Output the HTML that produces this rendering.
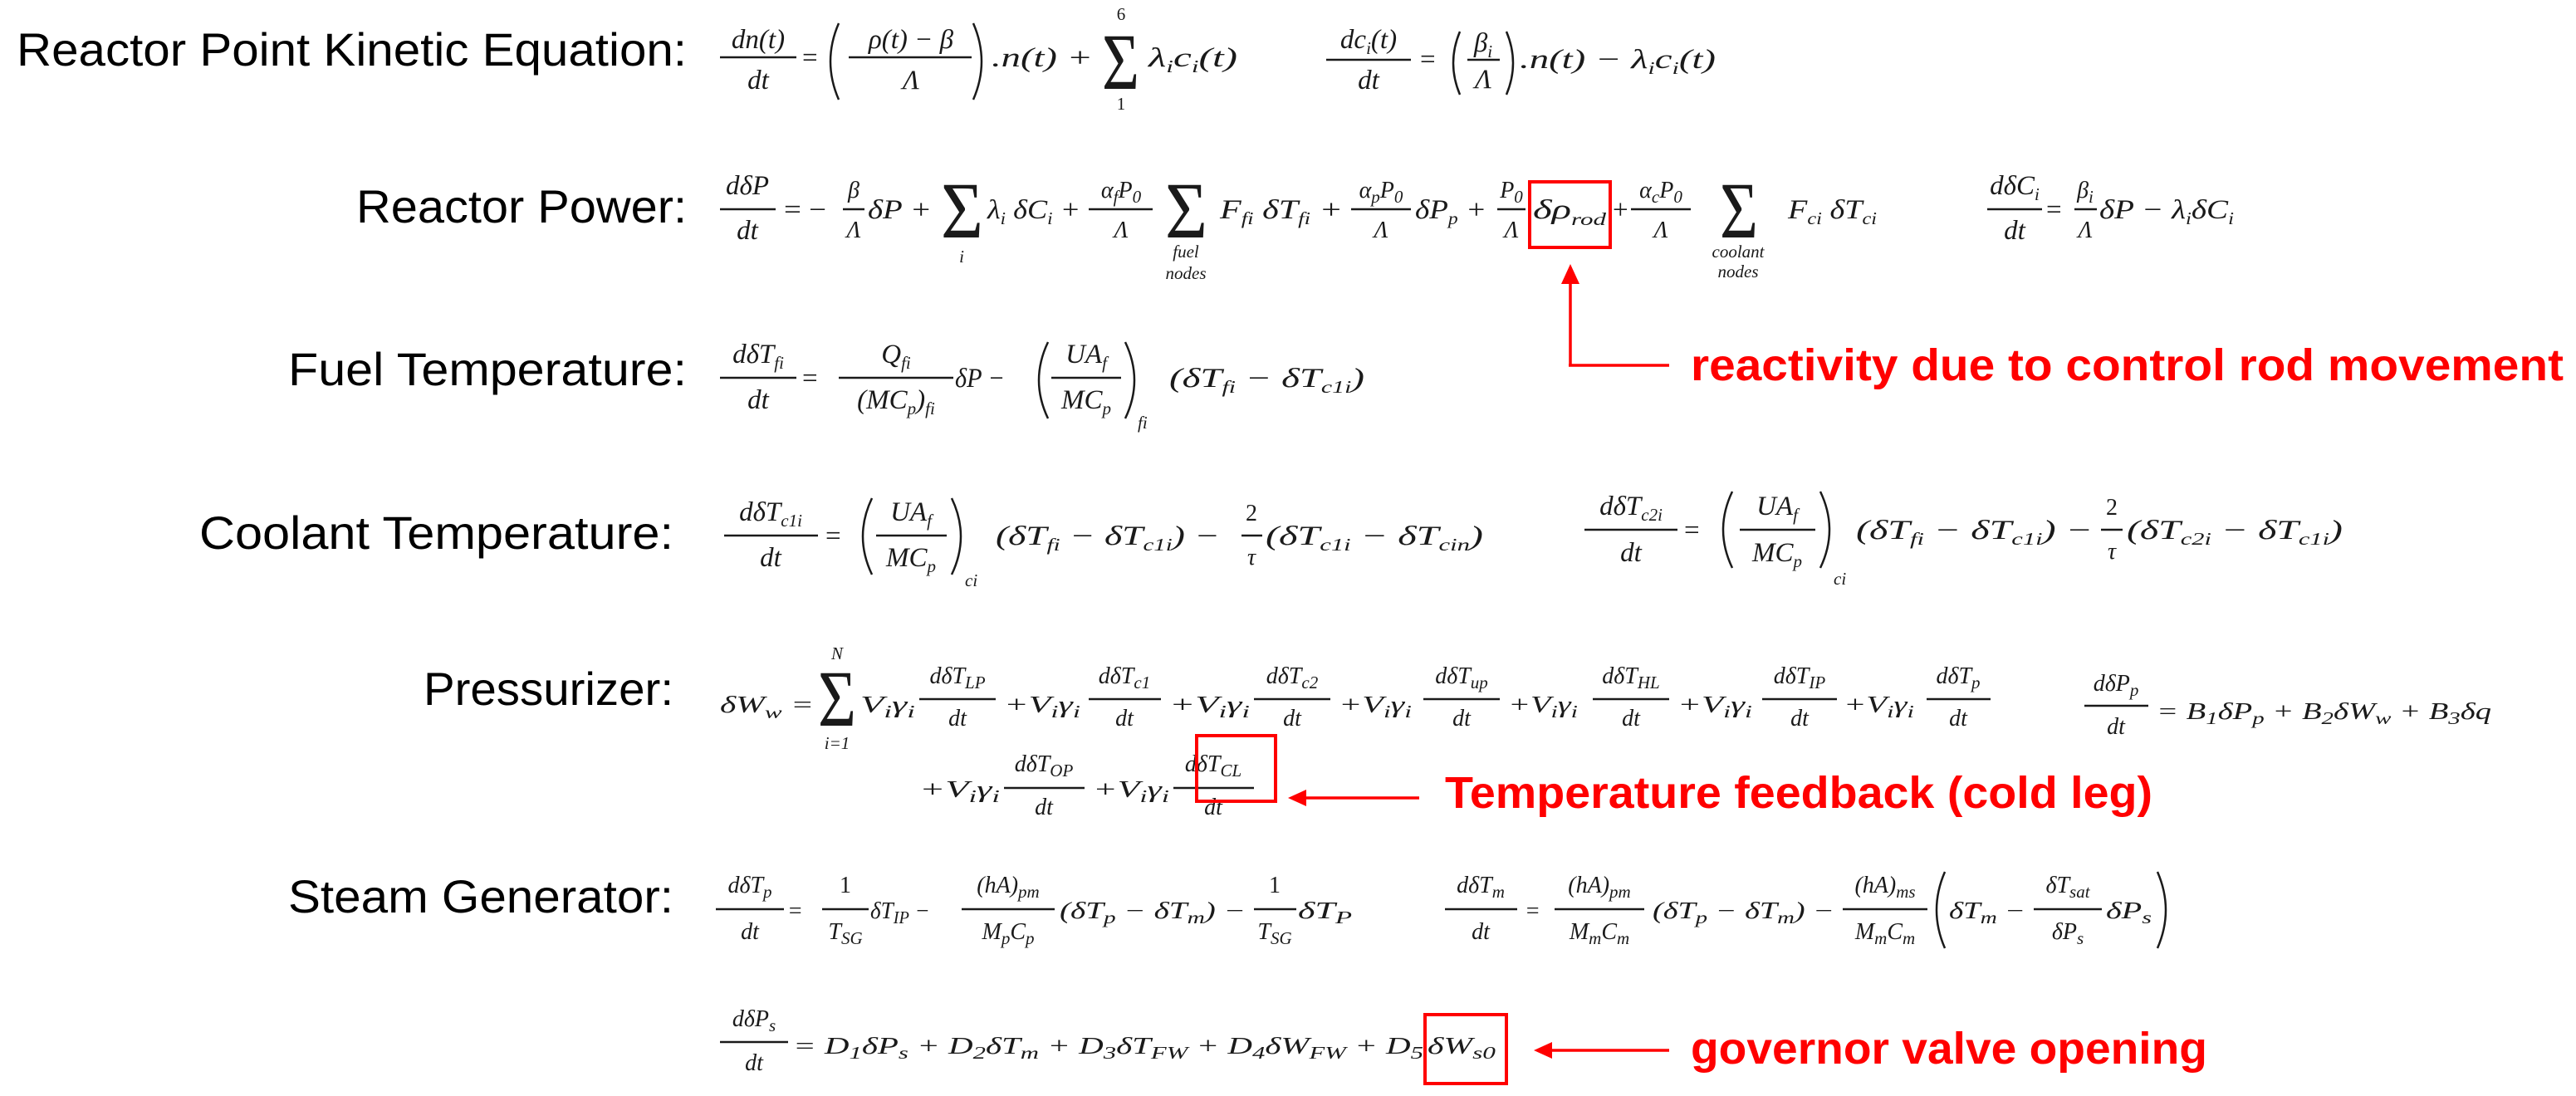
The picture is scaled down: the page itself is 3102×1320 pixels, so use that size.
<!DOCTYPE html>
<html><head><meta charset="utf-8"><style>
html,body{margin:0;padding:0;background:#fff}
svg{display:block}
.l{font-family:"Liberation Sans",sans-serif;font-size:56px;fill:#000}
.m{font-family:"Liberation Serif",serif;font-style:italic;font-size:33px;fill:#1a1a1a}
.n{font-family:"Liberation Serif",serif;font-size:33px;fill:#1a1a1a}
.sm{font-size:28px}
.s{font-size:21px}
.t{font-family:"Liberation Serif",serif;font-style:italic;font-size:21px;fill:#1a1a1a}
.big{font-family:"Liberation Serif",serif;font-size:96px;fill:#1a1a1a}
.r{font-family:"Liberation Sans",sans-serif;font-weight:bold;font-size:54px;fill:#ff0000}
line.b{stroke:#1a1a1a;stroke-width:2.5}
path.p{stroke:#1a1a1a;stroke-width:2.5;fill:none}
rect.box{fill:none;stroke:#ff0000;stroke-width:4}
.red{stroke:#ff0000;stroke-width:3.5;fill:none}
</style></head><body>
<svg width="3102" height="1320" viewBox="0 0 3102 1320" xmlns="http://www.w3.org/2000/svg">
<!-- Row 1 -->
<text class="l" x="20" y="79" textLength="807" lengthAdjust="spacingAndGlyphs">Reactor Point Kinetic Equation:</text>
<text class="m" x="913" y="58" text-anchor="middle">dn(t)</text>
<line class="b" x1="867" y1="69" x2="959" y2="69"/>
<text class="m" x="913" y="107" text-anchor="middle">dt</text>
<text class="n" x="966" y="80">=</text>
<path class="p" d="M1010 28 Q990 74 1010 120"/>
<text class="m" x="1097" y="58" text-anchor="middle">ρ(t) − β</text>
<line class="b" x1="1022" y1="69" x2="1170" y2="69"/>
<text class="m" x="1097" y="107" text-anchor="middle">Λ</text>
<path class="p" d="M1172 28 Q1192 74 1172 120"/>
<text class="m" x="1194" y="80" textLength="122" lengthAdjust="spacingAndGlyphs">.n(t) +</text>
<text class="big" x="1327" y="107" textLength="45" lengthAdjust="spacingAndGlyphs">Σ</text>
<text class="n s" x="1350" y="24" text-anchor="middle">6</text>
<text class="n s" x="1350" y="132" text-anchor="middle">1</text>
<text class="m" x="1383" y="80" textLength="107" lengthAdjust="spacingAndGlyphs">λ<tspan class="s" dy="7">i</tspan><tspan dy="-7">c</tspan><tspan class="s" dy="7">i</tspan><tspan dy="-7">(t)</tspan></text>

<text class="m" x="1648" y="58" text-anchor="middle">dc<tspan class="s" dy="7">i</tspan><tspan dy="-7">(t)</tspan></text>
<line class="b" x1="1597" y1="72" x2="1699" y2="72"/>
<text class="m" x="1648" y="107" text-anchor="middle">dt</text>
<text class="n" x="1710" y="82">=</text>
<path class="p" d="M1758 38 Q1742 76 1758 114"/>
<text class="m" x="1786" y="62" text-anchor="middle">β<tspan class="s" dy="7">i</tspan></text>
<line class="b" x1="1767" y1="72" x2="1806" y2="72"/>
<text class="m" x="1786" y="106" text-anchor="middle">Λ</text>
<path class="p" d="M1814 38 Q1830 76 1814 114"/>
<text class="m" x="1830" y="82" textLength="236" lengthAdjust="spacingAndGlyphs">.n(t) − λ<tspan class="s" dy="7">i</tspan><tspan dy="-7">c</tspan><tspan class="s" dy="7">i</tspan><tspan dy="-7">(t)</tspan></text>

<!-- Row 2 -->
<text class="l" x="429" y="268" textLength="398" lengthAdjust="spacingAndGlyphs">Reactor Power:</text>
<text class="m" x="900" y="234" text-anchor="middle">dδP</text>
<line class="b" x1="867" y1="252" x2="934" y2="252"/>
<text class="m" x="900" y="288" text-anchor="middle">dt</text>
<text class="n" x="944" y="263" textLength="51" lengthAdjust="spacingAndGlyphs">= −</text>
<text class="m sm" x="1028" y="238" text-anchor="middle">β</text>
<line class="b" x1="1015" y1="252" x2="1041" y2="252"/>
<text class="m sm" x="1028" y="286" text-anchor="middle">Λ</text>
<text class="m" x="1045" y="263" textLength="77" lengthAdjust="spacingAndGlyphs">δP +</text>
<text class="big" x="1133" y="286" textLength="51" lengthAdjust="spacingAndGlyphs">Σ</text>
<text class="t" x="1158" y="316" text-anchor="middle">i</text>
<text class="m" x="1189" y="263" textLength="112" lengthAdjust="spacingAndGlyphs">λ<tspan class="s" dy="7">i</tspan><tspan dy="-7"> δC</tspan><tspan class="s" dy="7">i</tspan><tspan dy="-7"> +</tspan></text>
<text class="m sm" x="1350" y="238" text-anchor="middle">α<tspan class="s" dy="6">f</tspan><tspan dy="-6">P</tspan><tspan class="s" dy="6">0</tspan></text>
<line class="b" x1="1311" y1="252" x2="1388" y2="252"/>
<text class="m sm" x="1350" y="286" text-anchor="middle">Λ</text>
<text class="big" x="1403" y="286" textLength="51" lengthAdjust="spacingAndGlyphs">Σ</text>
<text class="t" x="1428" y="310" text-anchor="middle">fuel</text>
<text class="t" x="1428" y="336" text-anchor="middle">nodes</text>
<text class="m" x="1469" y="263" textLength="148" lengthAdjust="spacingAndGlyphs">F<tspan class="s" dy="7">fi</tspan><tspan dy="-7"> δT</tspan><tspan class="s" dy="7">fi</tspan><tspan dy="-7"> +</tspan></text>
<text class="m sm" x="1663" y="238" text-anchor="middle">α<tspan class="s" dy="6">p</tspan><tspan dy="-6">P</tspan><tspan class="s" dy="6">0</tspan></text>
<line class="b" x1="1627" y1="252" x2="1699" y2="252"/>
<text class="m sm" x="1663" y="286" text-anchor="middle">Λ</text>
<text class="m" x="1704" y="263" textLength="86" lengthAdjust="spacingAndGlyphs">δP<tspan class="s" dy="7">p</tspan><tspan dy="-7"> +</tspan></text>
<text class="m sm" x="1820" y="238" text-anchor="middle">P<tspan class="s" dy="6">0</tspan></text>
<line class="b" x1="1803" y1="252" x2="1837" y2="252"/>
<text class="m sm" x="1820" y="286" text-anchor="middle">Λ</text>
<text class="m" x="1846" y="263" textLength="88" lengthAdjust="spacingAndGlyphs">δρ<tspan class="s" dy="8">rod</tspan></text>
<rect class="box" x="1842" y="219" width="97" height="79"/>
<text class="n" x="1942" y="263">+</text>
<text class="m sm" x="2000" y="238" text-anchor="middle">α<tspan class="s" dy="6">c</tspan><tspan dy="-6">P</tspan><tspan class="s" dy="6">0</tspan></text>
<line class="b" x1="1964" y1="252" x2="2036" y2="252"/>
<text class="m sm" x="2000" y="286" text-anchor="middle">Λ</text>
<text class="big" x="2071" y="286" textLength="46" lengthAdjust="spacingAndGlyphs">Σ</text>
<text class="t" x="2093" y="310" text-anchor="middle">coolant</text>
<text class="t" x="2093" y="334" text-anchor="middle">nodes</text>
<text class="m" x="2153" y="263" textLength="107" lengthAdjust="spacingAndGlyphs">F<tspan class="s" dy="7">ci</tspan><tspan dy="-7"> δT</tspan><tspan class="s" dy="7">ci</tspan></text>

<text class="m" x="2426" y="234" text-anchor="middle">dδC<tspan class="s" dy="7">i</tspan></text>
<line class="b" x1="2393" y1="252" x2="2459" y2="252"/>
<text class="m" x="2426" y="288" text-anchor="middle">dt</text>
<text class="n" x="2464" y="263">=</text>
<text class="m sm" x="2511" y="238" text-anchor="middle">β<tspan class="s" dy="6">i</tspan></text>
<line class="b" x1="2498" y1="252" x2="2525" y2="252"/>
<text class="m sm" x="2511" y="286" text-anchor="middle">Λ</text>
<text class="m" x="2528" y="263" textLength="162" lengthAdjust="spacingAndGlyphs">δP − λ<tspan class="s" dy="7">i</tspan><tspan dy="-7">δC</tspan><tspan class="s" dy="7">i</tspan></text>

<line class="red" x1="1891" y1="336" x2="1891" y2="440"/>
<line class="red" x1="1889" y1="440" x2="2010" y2="440"/>
<polygon points="1891,318 1880,342 1902,342" fill="#ff0000"/>
<text class="r" x="2036" y="458" textLength="1051" lengthAdjust="spacingAndGlyphs">reactivity due to control rod movement</text>

<!-- Row 3 -->
<text class="l" x="347" y="464" textLength="480" lengthAdjust="spacingAndGlyphs">Fuel Temperature:</text>
<text class="m" x="913" y="437" text-anchor="middle">dδT<tspan class="s" dy="7">fi</tspan></text>
<line class="b" x1="867" y1="455" x2="959" y2="455"/>
<text class="m" x="913" y="492" text-anchor="middle">dt</text>
<text class="n" x="966" y="466">=</text>
<text class="m" x="1079" y="437" text-anchor="middle">Q<tspan class="s" dy="7">fi</tspan></text>
<line class="b" x1="1010" y1="455" x2="1148" y2="455"/>
<text class="m" x="1079" y="492" text-anchor="middle">(MC<tspan class="s" dy="7">p</tspan><tspan dy="-7">)</tspan><tspan class="s" dy="7">fi</tspan></text>
<text class="m" x="1150" y="466" textLength="60" lengthAdjust="spacingAndGlyphs">δP −</text>
<path class="p" d="M1262 412 Q1240 458 1262 504"/>
<text class="m" x="1308" y="437" text-anchor="middle">UA<tspan class="s" dy="7">f</tspan></text>
<line class="b" x1="1266" y1="455" x2="1350" y2="455"/>
<text class="m" x="1308" y="492" text-anchor="middle">MC<tspan class="s" dy="7">p</tspan></text>
<path class="p" d="M1355 412 Q1377 458 1355 504"/>
<text class="t" x="1370" y="516">fi</text>
<text class="m" x="1408" y="466" textLength="235" lengthAdjust="spacingAndGlyphs">(δT<tspan class="s" dy="7">fi</tspan><tspan dy="-7"> − δT</tspan><tspan class="s" dy="7">c1i</tspan><tspan dy="-7">)</tspan></text>

<!-- Row 4 -->
<text class="l" x="240" y="661" textLength="571" lengthAdjust="spacingAndGlyphs">Coolant Temperature:</text>
<text class="m" x="928" y="627" text-anchor="middle">dδT<tspan class="s" dy="7">c1i</tspan></text>
<line class="b" x1="872" y1="645" x2="985" y2="645"/>
<text class="m" x="928" y="682" text-anchor="middle">dt</text>
<text class="n" x="994" y="656">=</text>
<path class="p" d="M1050 600 Q1028 646 1050 692"/>
<text class="m" x="1097" y="627" text-anchor="middle">UA<tspan class="s" dy="7">f</tspan></text>
<line class="b" x1="1055" y1="645" x2="1140" y2="645"/>
<text class="m" x="1097" y="682" text-anchor="middle">MC<tspan class="s" dy="7">p</tspan></text>
<path class="p" d="M1146 600 Q1168 646 1146 692"/>
<text class="t" x="1162" y="706">ci</text>
<text class="m" x="1199" y="656" textLength="270" lengthAdjust="spacingAndGlyphs">(δT<tspan class="s" dy="7">fi</tspan><tspan dy="-7"> − δT</tspan><tspan class="s" dy="7">c1i</tspan><tspan dy="-7">) −</tspan></text>
<text class="n sm" x="1507" y="627" text-anchor="middle">2</text>
<line class="b" x1="1495" y1="645" x2="1520" y2="645"/>
<text class="m sm" x="1507" y="680" text-anchor="middle">τ</text>
<text class="m" x="1524" y="656" textLength="262" lengthAdjust="spacingAndGlyphs">(δT<tspan class="s" dy="7">c1i</tspan><tspan dy="-7"> − δT</tspan><tspan class="s" dy="7">cin</tspan><tspan dy="-7">)</tspan></text>

<text class="m" x="1964" y="620" text-anchor="middle">dδT<tspan class="s" dy="7">c2i</tspan></text>
<line class="b" x1="1908" y1="638" x2="2020" y2="638"/>
<text class="m" x="1964" y="676" text-anchor="middle">dt</text>
<text class="n" x="2028" y="649">=</text>
<path class="p" d="M2086 592 Q2064 638 2086 684"/>
<text class="m" x="2140" y="620" text-anchor="middle">UA<tspan class="s" dy="7">f</tspan></text>
<line class="b" x1="2095" y1="638" x2="2186" y2="638"/>
<text class="m" x="2140" y="676" text-anchor="middle">MC<tspan class="s" dy="7">p</tspan></text>
<path class="p" d="M2192 592 Q2214 638 2192 684"/>
<text class="t" x="2208" y="704">ci</text>
<text class="m" x="2235" y="649" textLength="285" lengthAdjust="spacingAndGlyphs">(δT<tspan class="s" dy="7">fi</tspan><tspan dy="-7"> − δT</tspan><tspan class="s" dy="7">c1i</tspan><tspan dy="-7">) −</tspan></text>
<text class="n sm" x="2543" y="620" text-anchor="middle">2</text>
<line class="b" x1="2530" y1="638" x2="2556" y2="638"/>
<text class="m sm" x="2543" y="673" text-anchor="middle">τ</text>
<text class="m" x="2561" y="649" textLength="260" lengthAdjust="spacingAndGlyphs">(δT<tspan class="s" dy="7">c2i</tspan><tspan dy="-7"> − δT</tspan><tspan class="s" dy="7">c1i</tspan><tspan dy="-7">)</tspan></text>

<!-- Row 5 -->
<text class="l" x="510" y="849" textLength="301" lengthAdjust="spacingAndGlyphs">Pressurizer:</text>
<text class="m sm" x="867" y="858" textLength="113" lengthAdjust="spacingAndGlyphs">δW<tspan class="s" dy="7">w</tspan><tspan dy="-7"> =</tspan></text>
<text class="big" x="985" y="874" textLength="46" lengthAdjust="spacingAndGlyphs">Σ</text>
<text class="t" x="1008" y="794" text-anchor="middle">N</text>
<text class="t" x="1008" y="902" text-anchor="middle">i=1</text>

<g class="m sm">
<text x="1036" y="858" textLength="66" lengthAdjust="spacingAndGlyphs">V<tspan class="s" dy="6">i</tspan><tspan dy="-6">γ</tspan><tspan class="s" dy="6">i</tspan></text>
<text x="1153" y="823" text-anchor="middle">dδT<tspan class="s" dy="6">LP</tspan></text>
<text x="1153" y="874" text-anchor="middle">dt</text>
<text x="1209" y="858" textLength="92" lengthAdjust="spacingAndGlyphs">+V<tspan class="s" dy="6">i</tspan><tspan dy="-6">γ</tspan><tspan class="s" dy="6">i</tspan></text>
<text x="1354" y="823" text-anchor="middle">dδT<tspan class="s" dy="6">c1</tspan></text>
<text x="1354" y="874" text-anchor="middle">dt</text>
<text x="1408" y="858" textLength="97" lengthAdjust="spacingAndGlyphs">+V<tspan class="s" dy="6">i</tspan><tspan dy="-6">γ</tspan><tspan class="s" dy="6">i</tspan></text>
<text x="1556" y="823" text-anchor="middle">dδT<tspan class="s" dy="6">c2</tspan></text>
<text x="1556" y="874" text-anchor="middle">dt</text>
<text x="1612" y="858" textLength="88" lengthAdjust="spacingAndGlyphs">+V<tspan class="s" dy="6">i</tspan><tspan dy="-6">γ</tspan><tspan class="s" dy="6">i</tspan></text>
<text x="1760" y="823" text-anchor="middle">dδT<tspan class="s" dy="6">up</tspan></text>
<text x="1760" y="874" text-anchor="middle">dt</text>
<text x="1816" y="858" textLength="84" lengthAdjust="spacingAndGlyphs">+V<tspan class="s" dy="6">i</tspan><tspan dy="-6">γ</tspan><tspan class="s" dy="6">i</tspan></text>
<text x="1964" y="823" text-anchor="middle">dδT<tspan class="s" dy="6">HL</tspan></text>
<text x="1964" y="874" text-anchor="middle">dt</text>
<text x="2020" y="858" textLength="90" lengthAdjust="spacingAndGlyphs">+V<tspan class="s" dy="6">i</tspan><tspan dy="-6">γ</tspan><tspan class="s" dy="6">i</tspan></text>
<text x="2167" y="823" text-anchor="middle">dδT<tspan class="s" dy="6">IP</tspan></text>
<text x="2167" y="874" text-anchor="middle">dt</text>
<text x="2220" y="858" textLength="85" lengthAdjust="spacingAndGlyphs">+V<tspan class="s" dy="6">i</tspan><tspan dy="-6">γ</tspan><tspan class="s" dy="6">i</tspan></text>
<text x="2358" y="823" text-anchor="middle">dδT<tspan class="s" dy="6">p</tspan></text>
<text x="2358" y="874" text-anchor="middle">dt</text>
<text x="2548" y="832" text-anchor="middle">dδP<tspan class="s" dy="6">p</tspan></text>
<text x="2548" y="884" text-anchor="middle">dt</text>
<text x="2597" y="866" textLength="403" lengthAdjust="spacingAndGlyphs">= B<tspan class="s" dy="6">1</tspan><tspan dy="-6">δP</tspan><tspan class="s" dy="6">p</tspan><tspan dy="-6"> + B</tspan><tspan class="s" dy="6">2</tspan><tspan dy="-6">δW</tspan><tspan class="s" dy="6">w</tspan><tspan dy="-6"> + B</tspan><tspan class="s" dy="6">3</tspan><tspan dy="-6">δq</tspan></text>

<text x="1107" y="960" textLength="97" lengthAdjust="spacingAndGlyphs">+V<tspan class="s" dy="6">i</tspan><tspan dy="-6">γ</tspan><tspan class="s" dy="6">i</tspan></text>
<text x="1257" y="929" text-anchor="middle">dδT<tspan class="s" dy="6">OP</tspan></text>
<text x="1257" y="981" text-anchor="middle">dt</text>
<text x="1316" y="960" textLength="92" lengthAdjust="spacingAndGlyphs">+V<tspan class="s" dy="6">i</tspan><tspan dy="-6">γ</tspan><tspan class="s" dy="6">i</tspan></text>
<text x="1461" y="929" text-anchor="middle">dδT<tspan class="s" dy="6">CL</tspan></text>
<text x="1461" y="981" text-anchor="middle">dt</text>
</g>
<line class="b" x1="1107" y1="842" x2="1199" y2="842"/>
<line class="b" x1="1311" y1="842" x2="1398" y2="842"/>
<line class="b" x1="1510" y1="842" x2="1602" y2="842"/>
<line class="b" x1="1714" y1="842" x2="1806" y2="842"/>
<line class="b" x1="1918" y1="842" x2="2010" y2="842"/>
<line class="b" x1="2122" y1="842" x2="2212" y2="842"/>
<line class="b" x1="2320" y1="842" x2="2397" y2="842"/>
<line class="b" x1="2510" y1="850" x2="2587" y2="850"/>
<line class="b" x1="1209" y1="949" x2="1306" y2="949"/>
<line class="b" x1="1413" y1="949" x2="1510" y2="949"/>
<rect class="box" x="1441" y="886" width="95" height="79"/>
<line class="red" x1="1566" y1="961" x2="1709" y2="961"/>
<polygon points="1551,961 1573,951 1573,971" fill="#ff0000"/>
<text class="r" x="1740" y="973" textLength="852" lengthAdjust="spacingAndGlyphs">Temperature feedback (cold leg)</text>

<!-- Row 6 -->
<text class="l" x="347" y="1099" textLength="464" lengthAdjust="spacingAndGlyphs">Steam Generator:</text>
<g class="m sm">
<text x="903" y="1075" text-anchor="middle">dδT<tspan class="s" dy="6">p</tspan></text>
<text x="903" y="1131" text-anchor="middle">dt</text>
<text x="948" y="1106">=</text>
<text x="1018" y="1075" text-anchor="middle" font-style="normal">1</text>
<text x="1018" y="1131" text-anchor="middle">T<tspan class="s" dy="6">SG</tspan></text>
<text x="1048" y="1106" textLength="72" lengthAdjust="spacingAndGlyphs">δT<tspan class="s" dy="6">IP</tspan><tspan dy="-6"> −</tspan></text>
<text x="1214" y="1075" text-anchor="middle">(hA)<tspan class="s" dy="6">pm</tspan></text>
<text x="1214" y="1131" text-anchor="middle">M<tspan class="s" dy="6">p</tspan><tspan dy="-6">C</tspan><tspan class="s" dy="6">p</tspan></text>
<text x="1276" y="1106" textLength="224" lengthAdjust="spacingAndGlyphs">(δT<tspan class="s" dy="6">p</tspan><tspan dy="-6"> − δT</tspan><tspan class="s" dy="6">m</tspan><tspan dy="-6">) −</tspan></text>
<text x="1535" y="1075" text-anchor="middle" font-style="normal">1</text>
<text x="1535" y="1131" text-anchor="middle">T<tspan class="s" dy="6">SG</tspan></text>
<text x="1563" y="1106" textLength="65" lengthAdjust="spacingAndGlyphs">δT<tspan class="s" dy="6">P</tspan></text>

<text x="1783" y="1075" text-anchor="middle">dδT<tspan class="s" dy="6">m</tspan></text>
<text x="1783" y="1131" text-anchor="middle">dt</text>
<text x="1836" y="1106">=</text>
<text x="1926" y="1075" text-anchor="middle">(hA)<tspan class="s" dy="6">pm</tspan></text>
<text x="1926" y="1131" text-anchor="middle">M<tspan class="s" dy="6">m</tspan><tspan dy="-6">C</tspan><tspan class="s" dy="6">m</tspan></text>
<text x="1990" y="1106" textLength="219" lengthAdjust="spacingAndGlyphs">(δT<tspan class="s" dy="6">p</tspan><tspan dy="-6"> − δT</tspan><tspan class="s" dy="6">m</tspan><tspan dy="-6">) −</tspan></text>
<text x="2270" y="1075" text-anchor="middle">(hA)<tspan class="s" dy="6">ms</tspan></text>
<text x="2270" y="1131" text-anchor="middle">M<tspan class="s" dy="6">m</tspan><tspan dy="-6">C</tspan><tspan class="s" dy="6">m</tspan></text>
<text x="2347" y="1106" textLength="92" lengthAdjust="spacingAndGlyphs">δT<tspan class="s" dy="6">m</tspan><tspan dy="-6"> −</tspan></text>
<text x="2490" y="1075" text-anchor="middle">δT<tspan class="s" dy="6">sat</tspan></text>
<text x="2490" y="1131" text-anchor="middle">δP<tspan class="s" dy="6">s</tspan></text>
<text x="2536" y="1106" textLength="55" lengthAdjust="spacingAndGlyphs">δP<tspan class="s" dy="6">s</tspan></text>
</g>
<line class="b" x1="862" y1="1095" x2="944" y2="1095"/>
<line class="b" x1="990" y1="1095" x2="1046" y2="1095"/>
<line class="b" x1="1158" y1="1095" x2="1270" y2="1095"/>
<line class="b" x1="1510" y1="1095" x2="1561" y2="1095"/>
<line class="b" x1="1740" y1="1095" x2="1827" y2="1095"/>
<line class="b" x1="1872" y1="1095" x2="1980" y2="1095"/>
<line class="b" x1="2219" y1="1095" x2="2321" y2="1095"/>
<line class="b" x1="2449" y1="1095" x2="2531" y2="1095"/>
<path class="p" d="M2342 1050 Q2322 1096 2342 1142"/>
<path class="p" d="M2598 1050 Q2618 1096 2598 1142"/>

<!-- Row 7 -->
<g class="m sm">
<text x="908" y="1236" text-anchor="middle">dδP<tspan class="s" dy="6">s</tspan></text>
<text x="908" y="1289" text-anchor="middle">dt</text>
<text x="955" y="1269" textLength="759" lengthAdjust="spacingAndGlyphs">= D<tspan class="s" dy="6">1</tspan><tspan dy="-6">δP</tspan><tspan class="s" dy="6">s</tspan><tspan dy="-6"> + D</tspan><tspan class="s" dy="6">2</tspan><tspan dy="-6">δT</tspan><tspan class="s" dy="6">m</tspan><tspan dy="-6"> + D</tspan><tspan class="s" dy="6">3</tspan><tspan dy="-6">δT</tspan><tspan class="s" dy="6">FW</tspan><tspan dy="-6"> + D</tspan><tspan class="s" dy="6">4</tspan><tspan dy="-6">δW</tspan><tspan class="s" dy="6">FW</tspan><tspan dy="-6"> + D</tspan><tspan class="s" dy="6">5</tspan></text>
<text x="1719" y="1269" textLength="82" lengthAdjust="spacingAndGlyphs">δW<tspan class="s" dy="6">s0</tspan></text>
</g>
<line class="b" x1="867" y1="1255" x2="949" y2="1255"/>
<rect class="box" x="1716" y="1222" width="98" height="83"/>
<line class="red" x1="1862" y1="1265" x2="2010" y2="1265"/>
<polygon points="1847,1265 1869,1255 1869,1275" fill="#ff0000"/>
<text class="r" x="2036" y="1281" textLength="622" lengthAdjust="spacingAndGlyphs">governor valve opening</text>
</svg>
</body></html>
